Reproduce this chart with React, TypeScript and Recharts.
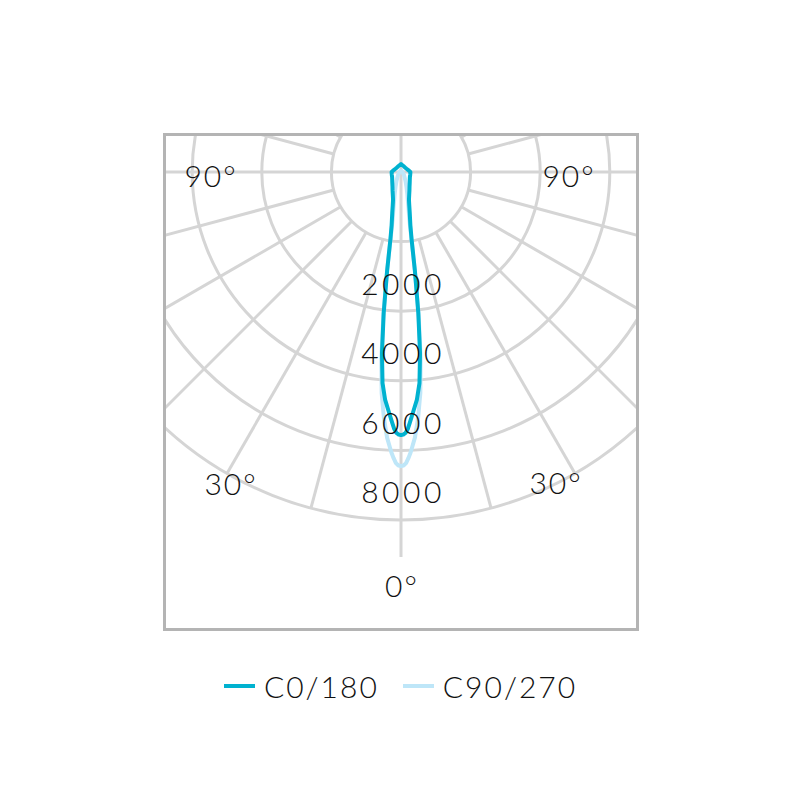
import React from 'react';
import { RadarChart, Radar, PolarGrid, PolarAngleAxis, PolarRadiusAxis, Legend } from 'recharts';

// photometric angle from nadir (deg), one half of the plane, mirrored for the other half
const ANGLES = [0, 0.5, 1, 1.5, 2, 3, 4, 5, 6, 7, 8, 9, 10, 12, 14, 16, 20, 25, 30, 40, 50, 60, 75, 90, 105, 120, 135, 150, 165, 180];
// luminous intensity (cd)
const C0_180 = [7560, 7545, 7500, 7390, 7215, 6870, 6555, 6090, 5230, 4080, 2870, 1930, 1550, 1210, 980, 830, 690, 575, 490, 390, 330, 295, 275, 270, 215, 185, 175, 180, 195, 230];
const C90_270 = [8450, 8435, 8365, 8220, 8050, 7645, 7070, 6380, 5400, 4170, 2870, 1840, 1380, 1030, 800, 660, 460, 320, 230, 145, 100, 70, 55, 45, 30, 30, 30, 30, 30, 30];

const RADIUS_LABELS = [2000, 4000, 6000, 8000];
const GRID_RINGS = [2000, 4000, 6000, 8000, 10000];
const GRID_SPOKES = [-165, -150, -135, -120, -105, -75, -60, -45, -30, -15, 15, 30, 45, 60, 75, 105, 120, 135, 150, 165];
const AXIS_LINES = [-180, -90, 0, 90];
const ANGLE_LABELS = [-90, -30, 0, 30, 90];

const MAX_CD = 10000;
const OUTER_R = 348;
const CX = 401;
const CY = 172;

const C0_COLOR = '#00b2d0';
const C90_COLOR = '#bee6f8';
const GRID_COLOR = '#d5d5d5';
const TEXT_COLOR = '#111';
const FONT = 'Lato, "Open Sans", sans-serif';

const half = ANGLES.map((a, i) => ({ angle: a, c0: C0_180[i], c90: C90_270[i] }));
const data = [
  ...half.slice(1, -1).reverse().map((d) => ({ ...d, angle: -d.angle })),
  ...half,
];

// box that clips the grid
const BOX = { left: 163, top: 133, width: 476, height: 498, border: 3 };
const GX = CX - BOX.left - BOX.border;
const GY = CY - BOX.top - BOX.border;
const GW = BOX.width - 2 * BOX.border;
const GH = BOX.height - 2 * BOX.border;

const ANGLE_LABEL_POS: Record<number, [number, number]> = {
  90: [-191, 3],
  [-90]: [167, 3],
  30: [-171, 311],
  [-30]: [154, 310],
  0: [0, 413],
};

const RadiusTick = (props: any) => {
  const { x, y, payload } = props;
  return (
    <text x={x + 2} y={y + 41} textAnchor="middle" dominantBaseline="central"
      fontFamily={FONT} fontWeight={300} fontSize={30} letterSpacing={3.5} fill={TEXT_COLOR}>
      {payload.value}
    </text>
  );
};

const AngleTick = (props: any) => {
  const pos = ANGLE_LABEL_POS[props.payload.value];
  if (!pos) return null;
  return (
    <text x={CX + pos[0] + 1} y={CY + pos[1]} textAnchor="middle" dominantBaseline="central"
      fontFamily={FONT} fontWeight={300} fontSize={30} letterSpacing={2} fill={TEXT_COLOR}>
      {`${Math.abs(props.payload.value)}°`}
    </text>
  );
};

const renderLegend = (props: any) => {
  const order = ['C0/180', 'C90/270'];
  const items = [...(props.payload || [])].sort((a, b) => order.indexOf(a.value) - order.indexOf(b.value));
  return (
    <div style={{ display: 'flex', justifyContent: 'center', alignItems: 'center', fontFamily: FONT, fontWeight: 300, fontSize: 30, color: TEXT_COLOR }}>
      {items.map((e) => (
        <div key={e.value} style={{ display: 'flex', alignItems: 'center', margin: '0 12px' }}>
          <svg width={31} height={4}>
            <line x1={0} y1={2} x2={31} y2={2} stroke={e.color} strokeWidth={4} />
          </svg>
          <span style={{ marginLeft: 9, letterSpacing: 2 }}>{e.value}</span>
        </div>
      ))}
    </div>
  );
};

export default function App() {
  return (
    <div style={{ position: 'absolute', left: 0, top: 0, width: 801, height: 800, background: '#fff' }}>
      <div style={{
        position: 'absolute', left: BOX.left, top: BOX.top, width: BOX.width, height: BOX.height,
        border: `${BOX.border}px solid #b4b4b4`, boxSizing: 'border-box', overflow: 'hidden',
      }}>
        {/* rings and spokes */}
        <div style={{ position: 'absolute', left: 0, top: 0 }}>
          <RadarChart width={GW} height={GH} data={data} cx={GX} cy={GY}
            innerRadius={(OUTER_R * GRID_RINGS[0]) / MAX_CD} outerRadius={OUTER_R}
            startAngle={90} endAngle={-270} margin={{ top: 0, right: 0, bottom: 0, left: 0 }}>
            <PolarAngleAxis dataKey="angle" type="number" domain={[-180, 180]} allowDataOverflow
              ticks={GRID_SPOKES} tick={false} axisLine={false} tickLine={false} />
            <PolarRadiusAxis type="number" domain={[GRID_RINGS[0], MAX_CD]} allowDataOverflow
              ticks={GRID_RINGS} tick={false} axisLine={false} />
            <PolarGrid gridType="circle" stroke={GRID_COLOR} strokeWidth={3} />
          </RadarChart>
        </div>
        {/* through-lines: horizontal and vertical */}
        <div style={{ position: 'absolute', left: 0, top: 0 }}>
          <RadarChart width={GW} height={GH} data={data} cx={GX} cy={GY} innerRadius={0}
            outerRadius={OUTER_R + 37} startAngle={90} endAngle={-270} margin={{ top: 0, right: 0, bottom: 0, left: 0 }}>
            <PolarAngleAxis dataKey="angle" type="number" domain={[-180, 180]} allowDataOverflow
              ticks={AXIS_LINES} tick={false} axisLine={false} tickLine={false} />
            <PolarRadiusAxis type="number" domain={[0, MAX_CD]} allowDataOverflow tick={false} axisLine={false} />
            <PolarGrid gridType="circle" polarRadius={[]} stroke={GRID_COLOR} strokeWidth={3} />
          </RadarChart>
        </div>
      </div>
      {/* data layer */}
      <div style={{ position: 'absolute', left: 0, top: 0 }}>
        <RadarChart width={801} height={800} data={data} cx={CX} cy={CY} innerRadius={0} outerRadius={OUTER_R}
          startAngle={90} endAngle={-270} margin={{ top: 0, right: 0, bottom: 0, left: 0 }}>
          <PolarAngleAxis dataKey="angle" type="number" domain={[-180, 180]} allowDataOverflow ticks={ANGLE_LABELS}
            tick={(p: any) => <AngleTick {...p} />} axisLine={false} tickLine={false} />
          <Radar dataKey="c90" name="C90/270" stroke={C90_COLOR} strokeWidth={4} fill="none" fillOpacity={0}
            dot={false} strokeLinejoin="round" isAnimationActive={false} />
          <Radar dataKey="c0" name="C0/180" stroke={C0_COLOR} strokeWidth={4} fill="none" fillOpacity={0}
            dot={false} strokeLinejoin="round" isAnimationActive={false} />
          <PolarRadiusAxis type="number" angle={-90} domain={[0, MAX_CD]} allowDataOverflow ticks={RADIUS_LABELS}
            tick={(p: any) => <RadiusTick {...p} />} axisLine={false} tickLine={false} />
          <Legend verticalAlign="top" content={renderLegend} wrapperStyle={{ top: 668, left: 0, width: 801 }} />
        </RadarChart>
      </div>
    </div>
  );
}
